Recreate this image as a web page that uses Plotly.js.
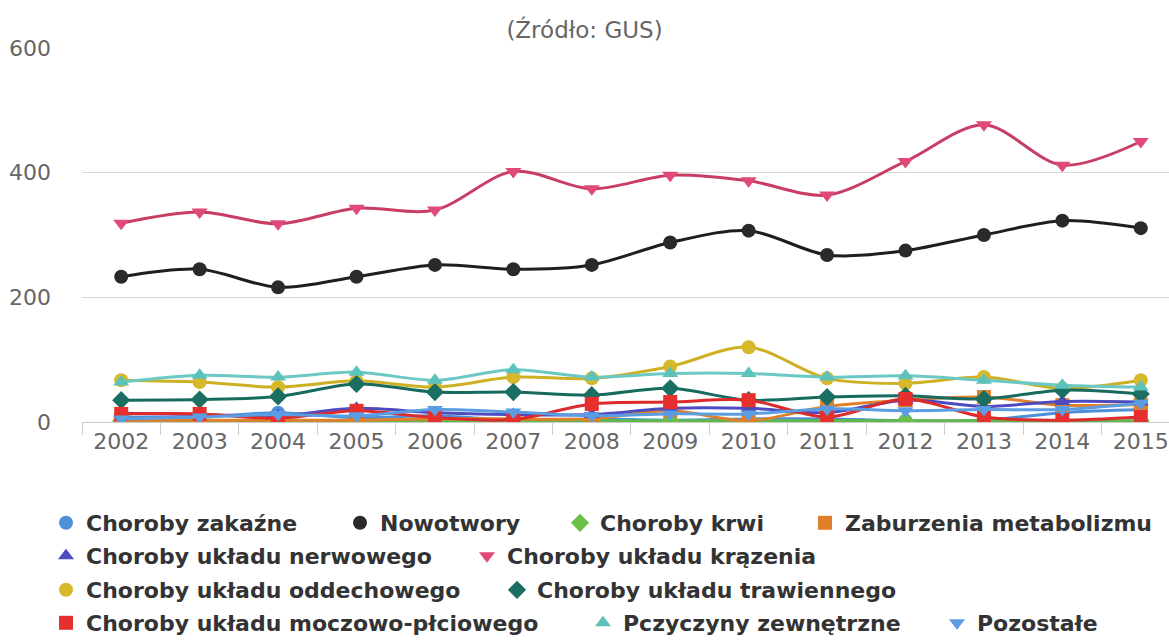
<!DOCTYPE html>
<html>
<head>
<meta charset="utf-8">
<script src="https://cdn.plot.ly/plotly-3.0.1.min.js"></script>
<style>
html,body{margin:0;padding:0;background:#fff;}
#chart{width:1169px;height:644px;}
#chart .legendlines{display:none;}
</style>
</head>
<body>
<div id="chart"></div>
<script>
const years = ["2002","2003","2004","2005","2006","2007","2008","2009","2010","2011","2012","2013","2014","2015"];

const seriesNames = [
  "Choroby zakaźne",
  "Nowotwory",
  "Choroby krwi",
  "Zaburzenia metabolizmu",
  "Choroby układu nerwowego",
  "Choroby układu krązenia",
  "Choroby układu oddechowego",
  "Choroby układu trawiennego",
  "Choroby układu moczowo-płciowego",
  "Pczyczyny zewnętrzne",
  "Pozostałe"
];

const zakazne     = [8, 8, 15, 7, 10, 3, 5, 3, 5, 5, 2, 3, 15, 20];
const nowotwory   = [233, 245, 216, 233, 252, 245, 252, 288, 307, 268, 275, 300, 323, 311];
const krwi        = [2, 2, 2, 2, 2, 2, 2, 2, 2, 2, 2, 2, 2, 2];
const metabolizm  = [3, 3, 3, 3, 5, 5, 5, 18, 2, 25, 35, 40, 27, 28];
const nerwowe     = [14, 12, 10, 22, 15, 12, 12, 22, 22, 15, 35, 25, 33, 32];
const krazenie    = [319, 337, 318, 343, 340, 402, 374, 396, 387, 364, 418, 477, 412, 450];
const oddechowe   = [67, 64, 56, 66, 56, 72, 70, 89, 120, 70, 62, 72, 54, 67];
const trawienne   = [35, 36, 41, 61, 48, 48, 43, 54, 35, 40, 42, 37, 51, 45];
const moczowe     = [13, 13, 6, 18, 7, 4, 29, 32, 35, 8, 37, 8, 3, 8];
const zewnetrzne  = [64, 75, 72, 80, 67, 84, 72, 78, 78, 72, 74, 67, 59, 56];
const pozostale   = [5, 8, 12, 10, 20, 16, 10, 13, 13, 21, 18, 20, 20, 30];

const seriesValues = [zakazne, nowotwory, krwi, metabolizm, nerwowe, krazenie, oddechowe, trawienne, moczowe, zewnetrzne, pozostale];

// styling
const lineColors   = ["#4d8fd9", "#1e1e1e", "#5fb84a", "#e0802a", "#4e4bc0", "#c93d65", "#cdb024", "#176b5e", "#dd2a2a", "#6cc8c4", "#5b9de3"];
const markerColors = ["#4d8fd9", "#2a2a2a", "#6cc04a", "#e0802a", "#4e4bc0", "#e04a78", "#d6b82a", "#1a6f62", "#e5302e", "#5cc2bc", "#5b9de3"];
const symbols      = ["circle", "circle", "diamond", "square", "triangle-up", "triangle-down", "circle", "diamond", "square", "triangle-up", "triangle-down"];

// legend layout (pixel positions of each entry's text start and row centre)
const legendTextX = [86, 380, 600, 845, 86, 507, 86, 537, 86, 623, 977];
const legendRowY  = [523, 523, 523, 523, 556, 556, 590, 590, 623, 623, 623];

const W = 1169, H = 644;
const M = {l: 82, r: 0, t: 48, b: 222};
const plotW = W - M.l - M.r, plotH = H - M.t - M.b;

const traces = seriesNames.map((name, i) => ({
  type: "scatter",
  mode: "lines+markers",
  name: name,
  legend: i === 0 ? "legend" : "legend" + (i + 1),
  x: years,
  y: seriesValues[i],
  line: {color: lineColors[i], width: 3, shape: "spline", smoothing: 0.9},
  marker: {color: markerColors[i], symbol: symbols[i], size: 14, line: {width: 0}},
  hoverinfo: "x+y+name"
}));

const layout = {
  width: W,
  height: H,
  paper_bgcolor: "#ffffff",
  plot_bgcolor: "#ffffff",
  margin: {l: M.l, r: M.r, t: M.t, b: M.b, pad: 0},
  font: {family: "DejaVu Sans, sans-serif", color: "#666666"},
  title: {
    text: "(Źródło: GUS)",
    font: {family: "DejaVu Sans, sans-serif", size: 23, color: "#666666"},
    x: 0.5, xanchor: "center", xref: "container",
    y: 1 - 30 / H, yanchor: "middle", yref: "container"
  },
  xaxis: {
    type: "category",
    range: [-0.5, 13.36],
    tickson: "boundaries",
    ticks: "outside",
    ticklen: 12,
    tickcolor: "#cccccc",
    tickwidth: 1,
    showgrid: false,
    showline: true,
    linecolor: "#cccccc",
    linewidth: 1,
    zeroline: false,
    tickfont: {family: "DejaVu Sans, sans-serif", size: 22, color: "#666666"},
    fixedrange: true
  },
  yaxis: {
    range: [0, 600],
    tickvals: [0, 200, 400, 600],
    ticktext: ["0", "200", "400", "600"],
    showgrid: true,
    gridcolor: "#d8d8d8",
    gridwidth: 1,
    zeroline: false,
    showline: false,
    ticks: "",
    ticklabelstandoff: 30,
    tickfont: {family: "DejaVu Sans, sans-serif", size: 22, color: "#666666"},
    fixedrange: true
  },
  showlegend: true,
  hovermode: "closest"
};

seriesNames.forEach((name, i) => {
  const key = i === 0 ? "legend" : "legend" + (i + 1);
  layout[key] = {
    orientation: "h",
    x: (legendTextX[i] - 40 - M.l) / plotW,
    xanchor: "left",
    y: (H - M.b - legendRowY[i]) / plotH,
    yanchor: "middle",
    font: {family: "DejaVu Sans, sans-serif", size: 22, color: "#333333", weight: "bold"},
    itemwidth: 30,
    bgcolor: "rgba(0,0,0,0)",
    borderwidth: 0
  };
});

Plotly.newPlot("chart", traces, layout, {displayModeBar: false});
</script>
</body>
</html>
